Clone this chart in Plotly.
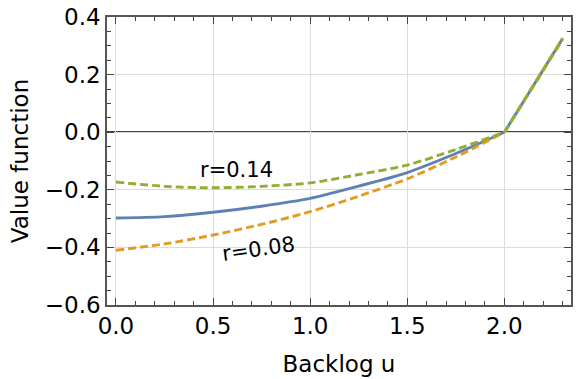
import plotly.graph_objects as go

# Data
u_vals = [0.0, 0.25, 0.5, 0.75, 1.0, 1.25, 1.5, 1.75, 2.0, 2.3]
v_base = [-0.298, -0.293, -0.278, -0.257, -0.230, -0.187, -0.140, -0.074, 0.0, 0.325]
v_r008 = [-0.410, -0.388, -0.357, -0.320, -0.276, -0.222, -0.162, -0.086, 0.0, 0.327]
v_r014 = [-0.173, -0.188, -0.193, -0.188, -0.176, -0.147, -0.114, -0.060, 0.0, 0.322]

labels = ["r=0.14", "r=0.08"]
label_pos_u = [0.62, 0.735]
label_pos_v = [-0.130, -0.405]

BLUE = "#5E81B5"
ORANGE = "#E19C24"
GREEN = "#8FB032"
FONT = "DejaVu Sans"

fig = go.Figure()

kink = u_vals.index(2.0)

def add_series(vals, color, dash):
    fig.add_trace(go.Scatter(x=u_vals[:kink + 1], y=vals[:kink + 1], mode="lines",
                             line=dict(color=color, width=2.9, dash=dash, shape="spline", smoothing=0.8),
                             showlegend=False, hoverinfo="skip"))
    fig.add_trace(go.Scatter(x=u_vals[kink:], y=vals[kink:], mode="lines",
                             line=dict(color=color, width=2.9, dash=dash),
                             showlegend=False, hoverinfo="skip"))

add_series(v_base, BLUE, "solid")
add_series(v_r008, ORANGE, "8px,4px")
add_series(v_r014, GREEN, "8px,4px")

fig.add_annotation(x=label_pos_u[0], y=label_pos_v[0], text=labels[0], showarrow=False,
                   font=dict(family=FONT, size=21, color="black"))
fig.add_annotation(x=label_pos_u[1], y=label_pos_v[1], text=labels[1], showarrow=False,
                   textangle=-8, font=dict(family=FONT, size=21, color="black"))

axis_common = dict(
    showline=True, linecolor="#555555", linewidth=1.5, mirror="allticks",
    ticks="inside", ticklen=7, tickwidth=1.2, tickcolor="#444444",
    showgrid=True, gridcolor="#dcdcdc", gridwidth=1,
    tickfont=dict(family=FONT, size=23, color="black"),
    zeroline=False, automargin=False,
)

fig.update_xaxes(range=[-0.046, 2.343], tickvals=[0, 0.5, 1.0, 1.5, 2.0],
                 ticktext=["0.0", "0.5", "1.0", "1.5", "2.0"],
                 minor=dict(dtick=0.1, tick0=0, ticks="inside", ticklen=4, tickcolor="#444444", showgrid=False),
                 title=dict(text="Backlog u", font=dict(family=FONT, size=23, color="black"), standoff=18),
                 **axis_common)
fig.update_yaxes(range=[-0.6, 0.4], tickvals=[-0.6, -0.4, -0.2, 0.0, 0.2, 0.4],
                 ticktext=["\u22120.6", "\u22120.4", "\u22120.2", "0.0", "0.2", "0.4"],
                 minor=dict(dtick=0.05, tick0=0, ticks="inside", ticklen=4, tickcolor="#444444", showgrid=False),
                 title=dict(text="Value function", font=dict(family=FONT, size=23, color="black"), standoff=10),
                 **axis_common)

fig.add_shape(type="line", xref="paper", x0=0, x1=1, yref="y", y0=0, y1=0,
              line=dict(color="#000000", width=1.8), layer="between")

fig.update_layout(width=578, height=379, margin=dict(l=107, r=7, t=17, b=74),
                  plot_bgcolor="white", paper_bgcolor="white",
                  font=dict(family=FONT))

fig.write_html("out.html", config={"displayModeBar": False},
               post_script="document.body.style.margin='0px';document.body.style.overflow='hidden';")
